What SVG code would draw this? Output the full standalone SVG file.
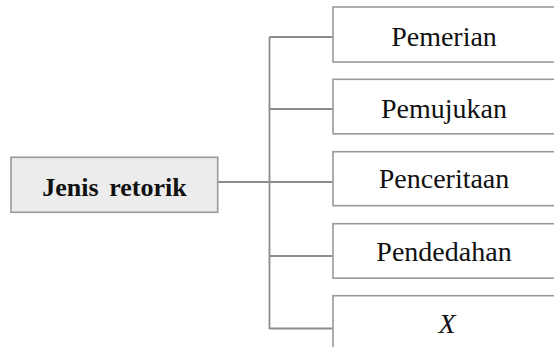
<svg xmlns="http://www.w3.org/2000/svg" width="554" height="347" viewBox="0 0 554 347">
<style>
.box{fill:#ffffff;stroke:#9a9a9a;stroke-width:1.6}
.root{fill:#ececec;stroke:#9a9a9a;stroke-width:1.6}
.conn{fill:none;stroke:#8c8c8c;stroke-width:1.8}
.lbl{font-family:"Liberation Serif","Times New Roman",serif;font-size:28px;fill:#111;text-anchor:middle}
.rlbl{font-family:"Liberation Serif","Times New Roman",serif;font-size:26px;font-weight:bold;fill:#111;text-anchor:middle;word-spacing:4px}
</style>
<rect width="554" height="347" fill="#ffffff"/>
<g id="connectors">
<path class="conn" d="M218,182 H269.5 M269.5,37 V329 M269.5,37 H333 M269.5,109 H333 M269.5,182 H333 M269.5,256 H333 M269.5,328.5 H333"/>
</g>
<g id="root">
<rect class="root" x="11" y="157.3" width="206.7" height="55"/>
<text class="rlbl" x="114.5" y="195.5">Jenis retorik</text>
</g>
<g id="n1">
<rect class="box" x="333" y="7" width="230" height="55"/>
<text class="lbl" x="444" y="46">Pemerian</text>
</g>
<g id="n2">
<rect class="box" x="333" y="79.3" width="230" height="54.5"/>
<text class="lbl" x="444" y="117.5">Pemujukan</text>
</g>
<g id="n3">
<rect class="box" x="333" y="151.7" width="230" height="54"/>
<text class="lbl" x="444" y="187.5">Penceritaan</text>
</g>
<g id="n4">
<rect class="box" x="333" y="223.7" width="230" height="54.5"/>
<text class="lbl" x="444" y="261">Pendedahan</text>
</g>
<g id="n5">
<rect class="box" x="333" y="295.7" width="230" height="60"/>
<text class="lbl" x="447" y="332.5" font-style="italic">X</text>
</g>
</svg>
